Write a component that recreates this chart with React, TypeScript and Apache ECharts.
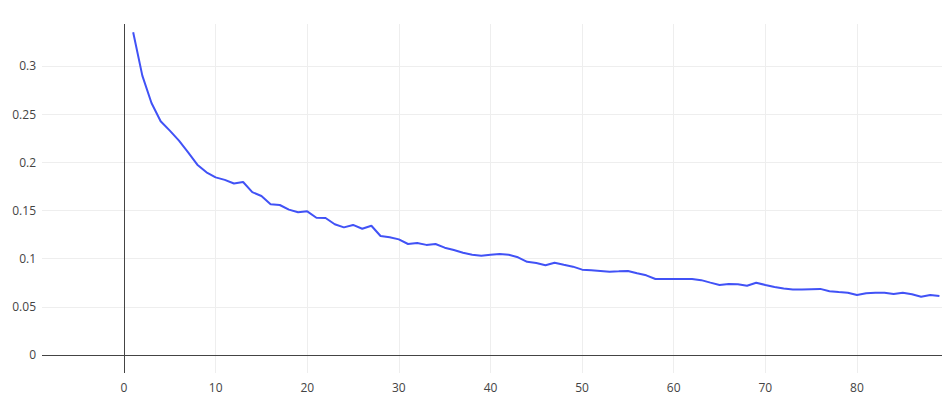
import React, { useEffect, useRef } from "react";
import * as echarts from "echarts";

const xValues: number[] = Array.from({ length: 89 }, (_, i) => i + 1);
const yValues: number[] = [
  0.335, 0.290, 0.2616, 0.2426, 0.2329, 0.2225, 0.2104, 0.1976, 0.1896, 0.1844,
  0.1818, 0.178, 0.1796, 0.169, 0.165, 0.1564, 0.1557, 0.1509, 0.1481, 0.1491,
  0.1425, 0.1422, 0.1357, 0.1325, 0.135, 0.131, 0.1342, 0.1235, 0.1222, 0.120,
  0.1152, 0.1163, 0.1143, 0.1152, 0.1114, 0.109, 0.1062, 0.1041, 0.1031, 0.1041,
  0.1048, 0.104, 0.1014, 0.0967, 0.0955, 0.0931, 0.0958, 0.0937, 0.0917, 0.0886,
  0.0879, 0.0872, 0.0865, 0.0868, 0.0872, 0.0848, 0.0827, 0.0789, 0.0789, 0.0789,
  0.0789, 0.0789, 0.0777, 0.0751, 0.0727, 0.0737, 0.0734, 0.0718, 0.075, 0.0727,
  0.0705, 0.069, 0.068, 0.068, 0.0683, 0.0686, 0.0662, 0.0654, 0.0647, 0.0623,
  0.064, 0.0647, 0.0647, 0.0633, 0.0647, 0.063, 0.0605, 0.0623, 0.0612,
];

const xRange = [-8.95, 89.28];
const yRange = [-0.0187, 0.3436];

export default function App() {
  const ref = useRef<HTMLDivElement>(null);
  useEffect(() => {
    if (!ref.current) return;
    const chart = echarts.init(ref.current, undefined, { renderer: "svg" });
    const font = '"Open Sans", "DejaVu Sans", sans-serif';
    chart.setOption({
      animation: false,
      backgroundColor: "#fff",
      grid: { left: 42, right: 0, top: 24, bottom: 40, containLabel: false },
      xAxis: {
        type: "value",
        min: xRange[0],
        max: xRange[1],
        minInterval: 10,
        maxInterval: 10,
        axisLine: { show: false },
        axisTick: { show: false },
        splitLine: {
          show: true,
          showMinLine: false,
          showMaxLine: false,
          lineStyle: { color: "#eeeeee", width: 1 },
        },
        axisLabel: {
          color: "#444",
          fontSize: 12,
          fontFamily: font,
          margin: 8,
          showMinLabel: false,
          showMaxLabel: false,
        },
      },
      yAxis: {
        type: "value",
        min: yRange[0],
        max: yRange[1],
        minInterval: 0.05,
        maxInterval: 0.05,
        axisLine: { show: false },
        axisTick: { show: false },
        splitLine: {
          show: true,
          showMinLine: false,
          showMaxLine: false,
          lineStyle: { color: "#eeeeee", width: 1 },
        },
        axisLabel: {
          color: "#444",
          fontSize: 12,
          fontFamily: font,
          margin: 6,
          showMinLabel: false,
          showMaxLabel: false,
        },
      },
      series: [
        {
          type: "line",
          data: xValues.map((x, i) => [x, yValues[i]]),
          showSymbol: false,
          symbol: "none",
          lineStyle: { color: "#4152f6", width: 2 },
          itemStyle: { color: "#4152f6" },
          clip: true,
          z: 3,
          markLine: {
            silent: true,
            symbol: "none",
            label: { show: false },
            lineStyle: { color: "#444", width: 1, type: "solid" },
            data: [{ xAxis: 0 }, { yAxis: 0 }],
            z: 2,
          },
        },
      ],
    });
    return () => chart.dispose();
  }, []);
  return (
    <div
      ref={ref}
      style={{ position: "fixed", left: 0, top: 0, width: 942, height: 413 }}
    />
  );
}
